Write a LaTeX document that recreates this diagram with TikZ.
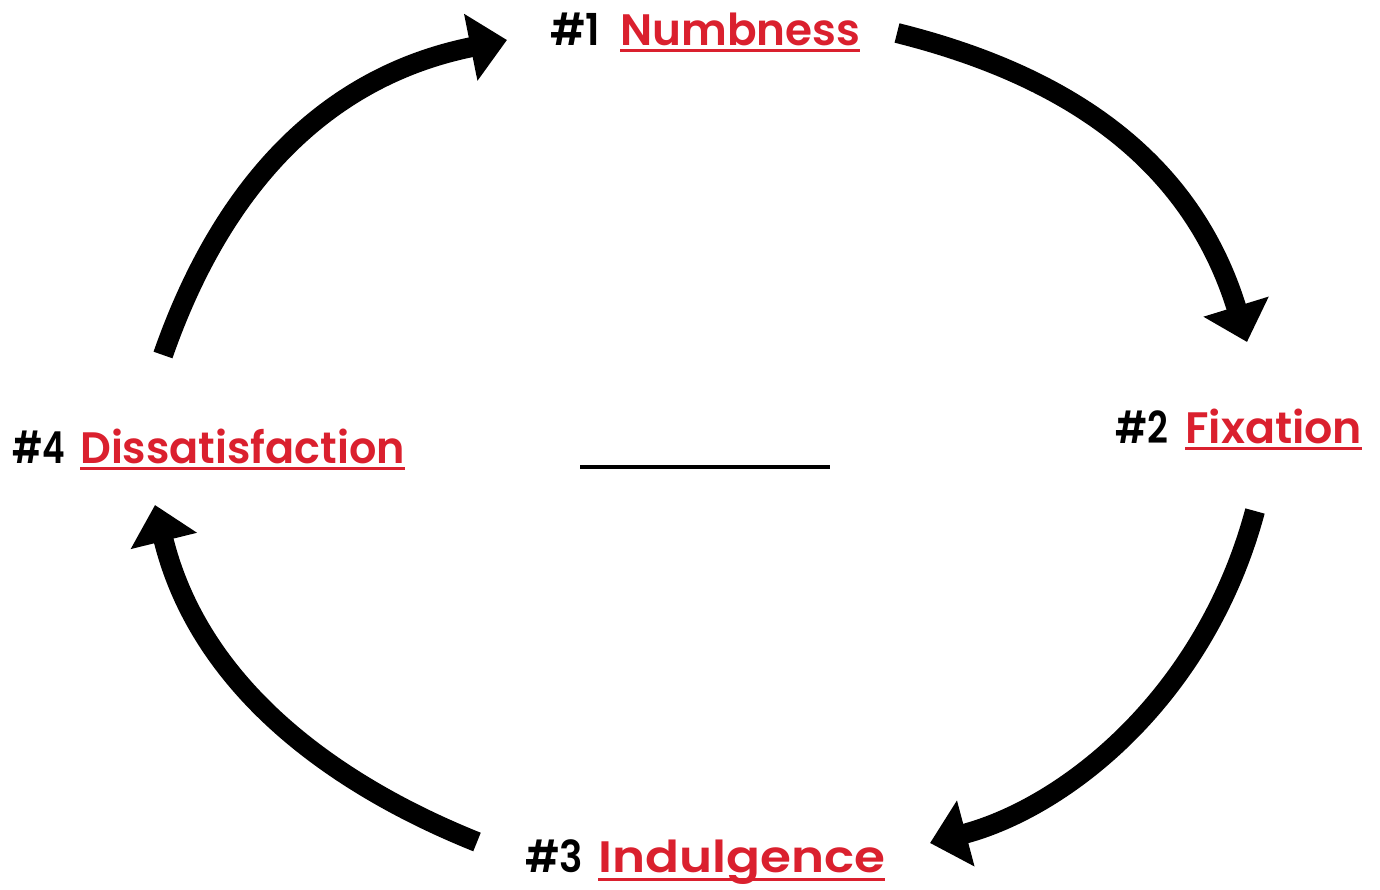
\documentclass[tikz,border=0pt]{standalone}
\usepackage{fontspec}
\usepackage{graphicx}
\setmainfont{Poppins}[BoldFont={Poppins SemiBold}]
\usetikzlibrary{arrows.meta}
\definecolor{lblred}{RGB}{218,32,46}
\newcommand{\fitw}[2]{\resizebox{#1}{\height}{#2}}
\tikzset{
  num/.style={inner sep=0pt, font=\fontsize{44}{48}\selectfont\bfseries, text=black},
  word/.style={inner sep=0pt, font=\fontsize{44}{48}\selectfont\bfseries, text=lblred},
  uline/.style={draw=lblred, line width=3pt},
  bigarrow/.style={line width=20pt, line cap=butt, -{Triangle[length=37pt,width=66pt]}},
}
\begin{document}
\begin{tikzpicture}[x=1pt,y=-1pt]
\useasboundingbox (0,0) rectangle (1380,890);
% labels
\node[num, anchor=base west] (n1) at (550,46) {\fitw{50pt}{\#1}};
\node[word, anchor=base west] (w1) at (620,46) {\fitw{240pt}{Numbness}};
\node[num, anchor=base west] (n2) at (1115,443) {\fitw{53pt}{\#2}};
\node[word, anchor=base west] (w2) at (1185,443) {\fitw{177pt}{Fixation}};
\node[num, anchor=base west] (n3) at (525,872) {\fitw{58pt}{\#3}};
\node[word, anchor=base west] (w3) at (598,872) {\fitw{287pt}{Indulgence}};
\node[num, anchor=base west] (n4) at (12,463) {\fitw{53pt}{\#4}};
\node[word, anchor=base west] (w4) at (80,463) {\fitw{325pt}{Dissatisfaction}};
\foreach \w in {w1,w2,w4}{
  \draw[uline] ([yshift=-5pt]\w.base west) -- ([yshift=-5pt]\w.base east);
}
\draw[uline] ([yshift=-7pt]w3.base west) -- ([yshift=-7pt]w3.base east);
% centre blank line
\coordinate (b1) at (580,467);
\coordinate (b2) at (830,467);
\draw[line width=4pt] (b1) -- (b2);
% arrows
\coordinate (a1s) at (163,355);  \coordinate (a1e) at (507,40);
\coordinate (a2s) at (897,33);   \coordinate (a2e) at (1247,342);
\coordinate (a3s) at (1255,511); \coordinate (a3e) at (930,843);
\coordinate (a4s) at (477,842);  \coordinate (a4e) at (155,505);
\draw[bigarrow] (a1s) .. controls (222.4,184.7) and (325.7,76.4) .. (a1e);
\draw[bigarrow] (a2s) .. controls (1071.9,76.6) and (1191.7,162.8) .. (a2e);
\draw[bigarrow] (a3s) .. controls (1205,696.7) and (1066.7,806.6) .. (a3e);
\draw[bigarrow] (a4s) .. controls (335,785) and (200,688) .. (a4e);
\end{tikzpicture}
\end{document}
